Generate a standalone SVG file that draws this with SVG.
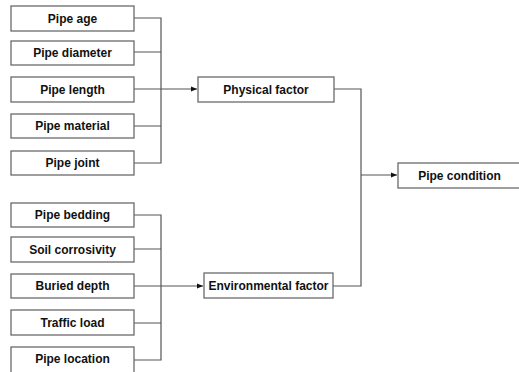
<svg xmlns="http://www.w3.org/2000/svg" width="519" height="372" viewBox="0 0 519 372">
<style>
.box{fill:#fff;stroke:#6a6a6a;stroke-width:1.3}
.lbl{font-family:"Liberation Sans",Arial,sans-serif;font-weight:bold;font-size:12px;fill:#111;text-anchor:middle;dominant-baseline:central}
.ln{fill:none;stroke:#555;stroke-width:1.2}
</style>
<defs>
<marker id="ah" viewBox="0 0 10 10" refX="10" refY="5" markerWidth="8" markerHeight="6" markerUnits="userSpaceOnUse" orient="auto"><path d="M0,1 L10,5 L0,9 Z" fill="#111"/></marker>
</defs>
<rect width="519" height="372" fill="#fff"/>
<g id="connectors">
<path class="ln" d="M134,18 H161 V163 H134 M134,52 H161 M134,126 H161"/>
<path class="ln" d="M134,89 H197" marker-end="url(#ah)"/>
<path class="ln" d="M134,215 H161 V360 H134 M134,249 H161 M134,323 H161"/>
<path class="ln" d="M134,286 H203" marker-end="url(#ah)"/>
<path class="ln" d="M334,89 H361 V286 H333"/>
<path class="ln" d="M361,175 H397" marker-end="url(#ah)"/>
</g>
<g id="pipe-age"><rect class="box" x="11" y="6" width="123" height="25"/><text class="lbl" x="72.5" y="18.5">Pipe age</text></g>
<g id="pipe-diameter"><rect class="box" x="11" y="41" width="123" height="24"/><text class="lbl" x="72.5" y="53">Pipe diameter</text></g>
<g id="pipe-length"><rect class="box" x="11" y="77" width="123" height="25"/><text class="lbl" x="72.5" y="89.5">Pipe length</text></g>
<g id="pipe-material"><rect class="box" x="11" y="114" width="123" height="24"/><text class="lbl" x="72.5" y="126">Pipe material</text></g>
<g id="pipe-joint"><rect class="box" x="11" y="151" width="123" height="24"/><text class="lbl" x="72.5" y="163">Pipe joint</text></g>
<g id="pipe-bedding"><rect class="box" x="11" y="203" width="123" height="24"/><text class="lbl" x="72.5" y="215">Pipe bedding</text></g>
<g id="soil-corrosivity"><rect class="box" x="11" y="237" width="123" height="25"/><text class="lbl" x="72.5" y="249.5">Soil corrosivity</text></g>
<g id="buried-depth"><rect class="box" x="11" y="274" width="123" height="24"/><text class="lbl" x="72.5" y="286">Buried depth</text></g>
<g id="traffic-load"><rect class="box" x="11" y="310" width="123" height="25"/><text class="lbl" x="72.5" y="322.5">Traffic load</text></g>
<g id="pipe-location"><rect class="box" x="11" y="347" width="123" height="27"/><text class="lbl" x="72.5" y="359">Pipe location</text></g>
<g id="physical-factor"><rect class="box" x="198" y="77" width="136" height="25"/><text class="lbl" x="266" y="89.5">Physical factor</text></g>
<g id="environmental-factor"><rect class="box" x="204" y="273" width="129" height="25"/><text class="lbl" x="268.5" y="285.5">Environmental factor</text></g>
<g id="pipe-condition"><rect class="box" x="398" y="163" width="123" height="25"/><text class="lbl" x="459.5" y="175.5">Pipe condition</text></g>
</svg>
